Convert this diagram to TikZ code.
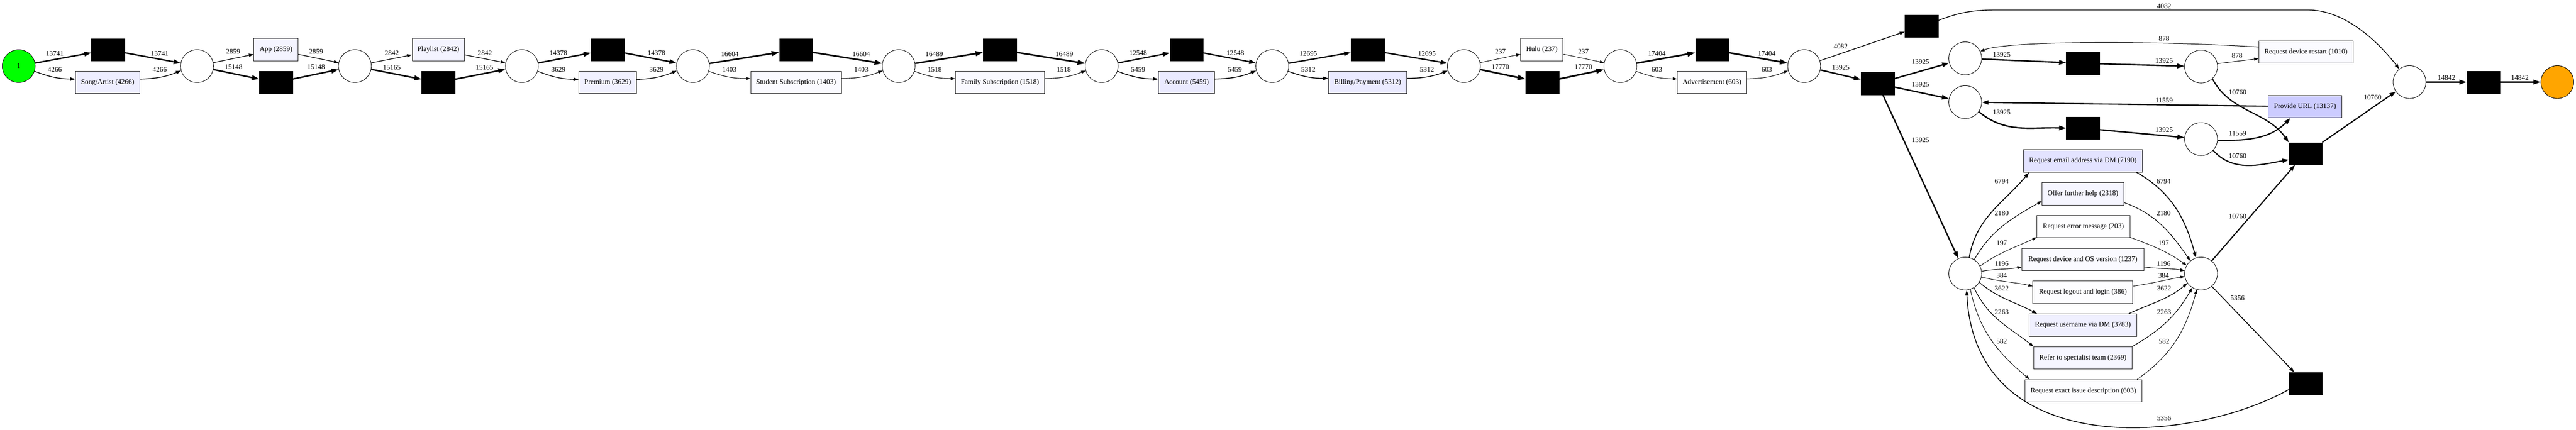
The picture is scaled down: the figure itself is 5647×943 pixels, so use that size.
\documentclass[tikz,border=0pt]{standalone}
\usepackage{fontspec}
\setmainfont{Liberation Serif}
\usetikzlibrary{arrows.meta}
\begin{document}
\begin{tikzpicture}[x=1pt,y=-1pt,
  every node/.style={font=\fontsize{15.5}{18}\selectfont},
  place/.style={circle,draw=black,line width=1pt,minimum size=72pt,inner sep=0},
  silent/.style={rectangle,draw=black,fill=black,minimum width=73pt,minimum height=49pt,inner sep=0},
  act/.style 2 args={rectangle,draw=black!85,line width=1.1pt,minimum height=49pt,minimum width=#1pt,inner sep=0,fill={rgb,255:red,#2;green,#2;blue,255}},
  flow/.style={-{Triangle[length=6pt 3.2,width=4.5pt 1.8]},line width=#1pt},
  lbl/.style={inner sep=0}]
\fill[white,use as bounding box] (0,0) rectangle (5647,943);
% ---------- main chain ----------
\node[place,fill={rgb,255:red,0;green,255;blue,0}] (start) at (41,145) {1};
\node[silent] (t1) at (237,109) {};
\node[act={141}{238}] (song) at (236,181) {Song/Artist (4266)};
\node[place] (p1) at (432,145) {};
\node[act={97}{244}] (app) at (605,109) {App (2859)};
\node[silent] (t2) at (605,181) {};
\node[place] (p2) at (778,145) {};
\node[act={115}{244}] (playlist) at (961,109) {Playlist (2842)};
\node[silent] (t3) at (961,181) {};
\node[place] (p3) at (1144,145) {};
\node[silent] (t4) at (1332,109) {};
\node[act={126}{241}] (premium) at (1332,181) {Premium (3629)};
\node[place] (p4) at (1519,145) {};
\node[silent] (t5) at (1745,109) {};
\node[act={199}{250}] (student) at (1745,181) {Student Subscription (1403)};
\node[place] (p5) at (1970,145) {};
\node[silent] (t6) at (2192,109) {};
\node[act={195}{249}] (family) at (2192,181) {Family Subscription (1518)};
\node[place] (p6) at (2415,145) {};
\node[silent] (t7) at (2601,109) {};
\node[act={123}{234}] (account) at (2601,181) {Account (5459)};
\node[place] (p7) at (2789,145) {};
\node[silent] (t8) at (2998,109) {};
\node[act={171}{234}] (billing) at (2998,181) {Billing/Payment (5312)};
\node[place] (p8) at (3209,145) {};
\node[act={93}{254}] (hulu) at (3380,109) {Hulu (237)};
\node[silent] (t9) at (3381,181) {};
\node[place] (p9) at (3552,145) {};
\node[silent] (t10) at (3753,109) {};
\node[act={152}{253}] (advert) at (3753,181) {Advertisement (603)};
\node[place] (p10) at (3955,145) {};
% ---------- right part ----------
\node[silent] (s4082) at (4212,57) {};
\node[silent] (sx) at (4116,183) {};
\node[place] (pa) at (4308,128) {};
\node[place] (pb) at (4308,224) {};
\node[silent] (sa) at (4566,139) {};
\node[silent] (sb) at (4566,281) {};
\node[place] (pc) at (4825,146) {};
\node[place] (pd) at (4825,305) {};
\node[act={207}{251}] (rdr) at (5055,114) {Request device restart (1010)};
\node[act={162}{204}] (url) at (5053,234) {Provide URL (13137)};
\node[silent] (sj) at (5054,337) {};
\node[place] (pend) at (5282,180) {};
\node[silent] (sf) at (5444,180) {};
\node[place,fill={rgb,255:red,255;green,165;blue,0}] (end) at (5606,180) {};
\node[place] (pl) at (4308,600) {};
\node[place] (pj) at (4825,600) {};
\node[silent] (sbot) at (5054,841) {};
\node[act={261}{227}] (email) at (4566,353) {Request email address via DM (7190)};
\node[act={179}{246}] (offer) at (4566,425) {Offer further help (2318)};
\node[act={204}{254}] (error) at (4567,497) {Request error message (203)};
\node[act={267}{250}] (device) at (4566,569) {Request device and OS version (1237)};
\node[act={219}{253}] (logout) at (4566,641) {Request logout and login (386)};
\node[act={236}{240}] (username) at (4566,713) {Request username via DM (3783)};
\node[act={215}{246}] (refer) at (4566,785) {Refer to specialist team (2369)};
\node[act={256}{253}] (exact) at (4567,857) {Request exact issue description (603)};
% ---------- main chain edges ----------
\draw[flow=2.96] (start) -- (t1);
\draw[flow=1.61] (start.-18) to[bend right=10] (song.174);
\draw[flow=2.96] (t1) -- (p1);
\draw[flow=1.61] (song.6) to[bend right=10] (p1.-164);
\draw[flow=1.41] (p1) -- (app);
\draw[flow=3.16] (p1) -- (t2);
\draw[flow=1.41] (app) -- (p2);
\draw[flow=3.16] (t2) -- (p2);
\draw[flow=1.41] (p2) -- (playlist);
\draw[flow=3.17] (p2) -- (t3);
\draw[flow=1.41] (playlist) -- (p3);
\draw[flow=3.17] (t3) -- (p3);
\draw[flow=3.05] (p3) -- (t4);
\draw[flow=1.52] (p3.-18) to[bend right=10] (premium.174);
\draw[flow=3.05] (t4) -- (p4);
\draw[flow=1.52] (premium.6) to[bend right=10] (p4.-164);
\draw[flow=3.37] (p4) -- (t5);
\draw[flow=1.2] (p4.-18) to[bend right=10] (student.175);
\draw[flow=3.37] (t5) -- (p5);
\draw[flow=1.2] (student.5) to[bend right=10] (p5.-164);
\draw[flow=3.36] (p5) -- (t6);
\draw[flow=1.22] (p5.-18) to[bend right=10] (family.175);
\draw[flow=3.36] (t6) -- (p6);
\draw[flow=1.22] (family.5) to[bend right=10] (p6.-164);
\draw[flow=2.79] (p6) -- (t7);
\draw[flow=1.78] (p6.-18) to[bend right=10] (account.173);
\draw[flow=2.79] (t7) -- (p7);
\draw[flow=1.78] (account.7) to[bend right=10] (p7.-164);
\draw[flow=2.81] (p7) -- (t8);
\draw[flow=1.76] (p7.-18) to[bend right=10] (billing.174);
\draw[flow=2.81] (t8) -- (p8);
\draw[flow=1.76] (billing.6) to[bend right=10] (p8.-164);
\draw[flow=1.03] (p8) -- (hulu);
\draw[flow=3.54] (p8) -- (t9);
\draw[flow=1.03] (hulu) -- (p9);
\draw[flow=3.54] (t9) -- (p9);
\draw[flow=3.49] (p9) -- (t10);
\draw[flow=1.09] (p9.-18) to[bend right=10] (advert.174);
\draw[flow=3.49] (t10) -- (p10);
\draw[flow=1.09] (advert.6) to[bend right=10] (p10.-164);
% ---------- right part edges ----------
\draw[flow=1.58] (p10) -- (s4082);
\draw[flow=2.99] (p10) -- (sx);
\draw[flow=1.58] (s4082.18) .. controls (4300,25) and (4330,22) .. (4380,22) -- (5060,22) .. controls (5130,22) and (5200,75) .. (pend.128);
\draw[flow=2.99] (sx) -- (pa);
\draw[flow=2.99] (sx) -- (pb);
\draw[flow=2.99] (sx) -- (pl);
\draw[flow=2.99] (pa) -- (sa);
\draw[flow=2.99] (sa) -- (pc);
\draw[flow=2.99] (pb.-35) to[out=-40,in=178] (sb.west);
\draw[flow=2.99] (sb) -- (pd);
\draw[flow=1.13] (pc.10) -- (rdr.-172);
\draw[flow=1.13] (rdr.174) .. controls (4700,88) and (4400,90) .. (pa.25);
\draw[flow=2.54] (pc.-47) to[out=-62,in=125] (sj.north west);
\draw[flow=2.65] (url) -- (pb);
\draw[flow=2.65] (pd.-5) to[out=0,in=-135] (url.-142);
\draw[flow=2.54] (pd.-43) to[out=-48,in=190] (sj.-160);
\draw[flow=2.54] (sj.north east) -- (pend);
\draw[flow=3.12] (pend) -- (sf);
\draw[flow=3.12] (sf) -- (end);
% ---------- cluster edges ----------
\draw[flow=1.97] (pl.76) to[out=80,in=-130] (email.-168);
\draw[flow=1.31] (pl.57) to[out=60,in=-150] (offer.-170);
\draw[flow=1.03] (pl.27) to[out=35,in=-155] (error.-167);
\draw[flow=1.17] (pl.8) to[out=10,in=-170] (device.-173);
\draw[flow=1.05] (pl.-12) to[out=-14,in=168] (logout.173);
\draw[flow=1.52] (pl.-32) to[out=-40,in=152] (username.166);
\draw[flow=1.32] (pl.-58) to[out=-65,in=142] (refer.167);
\draw[flow=1.08] (pl.-72) to[out=-78,in=140] (exact.168);
\draw[flow=1.97] (email.-12) to[out=-30,in=105] (pj.108);
\draw[flow=1.31] (offer.-12) to[out=-20,in=125] (pj.130);
\draw[flow=1.03] (error.-13) to[out=-20,in=145] (pj.150);
\draw[flow=1.17] (device.-7) to[out=-8,in=170] (pj.170);
\draw[flow=1.05] (logout.7) to[out=8,in=-170] (pj.-170);
\draw[flow=1.52] (username.14) to[out=25,in=-140] (pj.-145);
\draw[flow=1.32] (refer.13) to[out=30,in=-120] (pj.-122);
\draw[flow=1.08] (exact.12) to[out=35,in=-105] (pj.-105);
\draw[flow=2.54] (pj.50) -- (sj.-133);
\draw[flow=1.77] (pj.-50) -- (sbot.135);
\draw[flow=1.77] (sbot.-160) .. controls (4800,975) and (4330,1010) .. (pl.-85);
% ---------- labels ----------
\foreach \t/\x/\y [count=\i] in {
13741/120/117, 4266/120/153, 13741/350/117, 4266/350/153,
2859/511/113, 15148/512/147, 2859/693/113, 15148/693/147,
2842/859/116, 15165/859/148, 2842/1063/116, 15165/1062/148,
14378/1224/116, 3629/1224/153, 14378/1439/116, 3629/1439/153,
16604/1600/119, 1403/1599/153, 16604/1888/119, 1403/1888/153,
16489/2048/119, 1518/2049/153, 16489/2333/119, 1518/2332/153,
12548/2495/116, 5459/2495/153, 12548/2708/116, 5459/2707/153,
12695/2868/117, 5312/2868/153, 12695/3128/117, 5312/3128/153,
237/3289/113, 17770/3289/147, 237/3471/113, 17770/3471/147,
17404/3632/117, 603/3632/153, 17404/3873/117, 603/3873/153,
4082/4035/102, 13925/4035/148, 13925/4210/135, 13925/4210/185, 13925/4210/307,
13925/4388/120, 13925/4388/246,
4082/4744/13, 878/4744/85, 13925/4744/133, 11559/4744/220, 13925/4744/285,
878/4904/122, 10760/4905/202, 11559/4905/293, 10760/4905/342,
10760/5201/213, 10760/4905/474, 5356/4905/654, 5356/4744/917,
14842/5363/170, 14842/5524/170,
6794/4388/398, 2180/4388/468, 197/4388/533, 1196/4388/578, 384/4388/604, 3622/4388/633, 2263/4388/684, 582/4388/749,
6794/4743/398, 2180/4743/468, 197/4743/533, 1196/4743/578, 384/4743/604, 3622/4744/633, 2263/4744/684, 582/4744/749}
  \node[lbl] (lb\i) at (\x,\y) {\t};
\end{tikzpicture}
\end{document}
